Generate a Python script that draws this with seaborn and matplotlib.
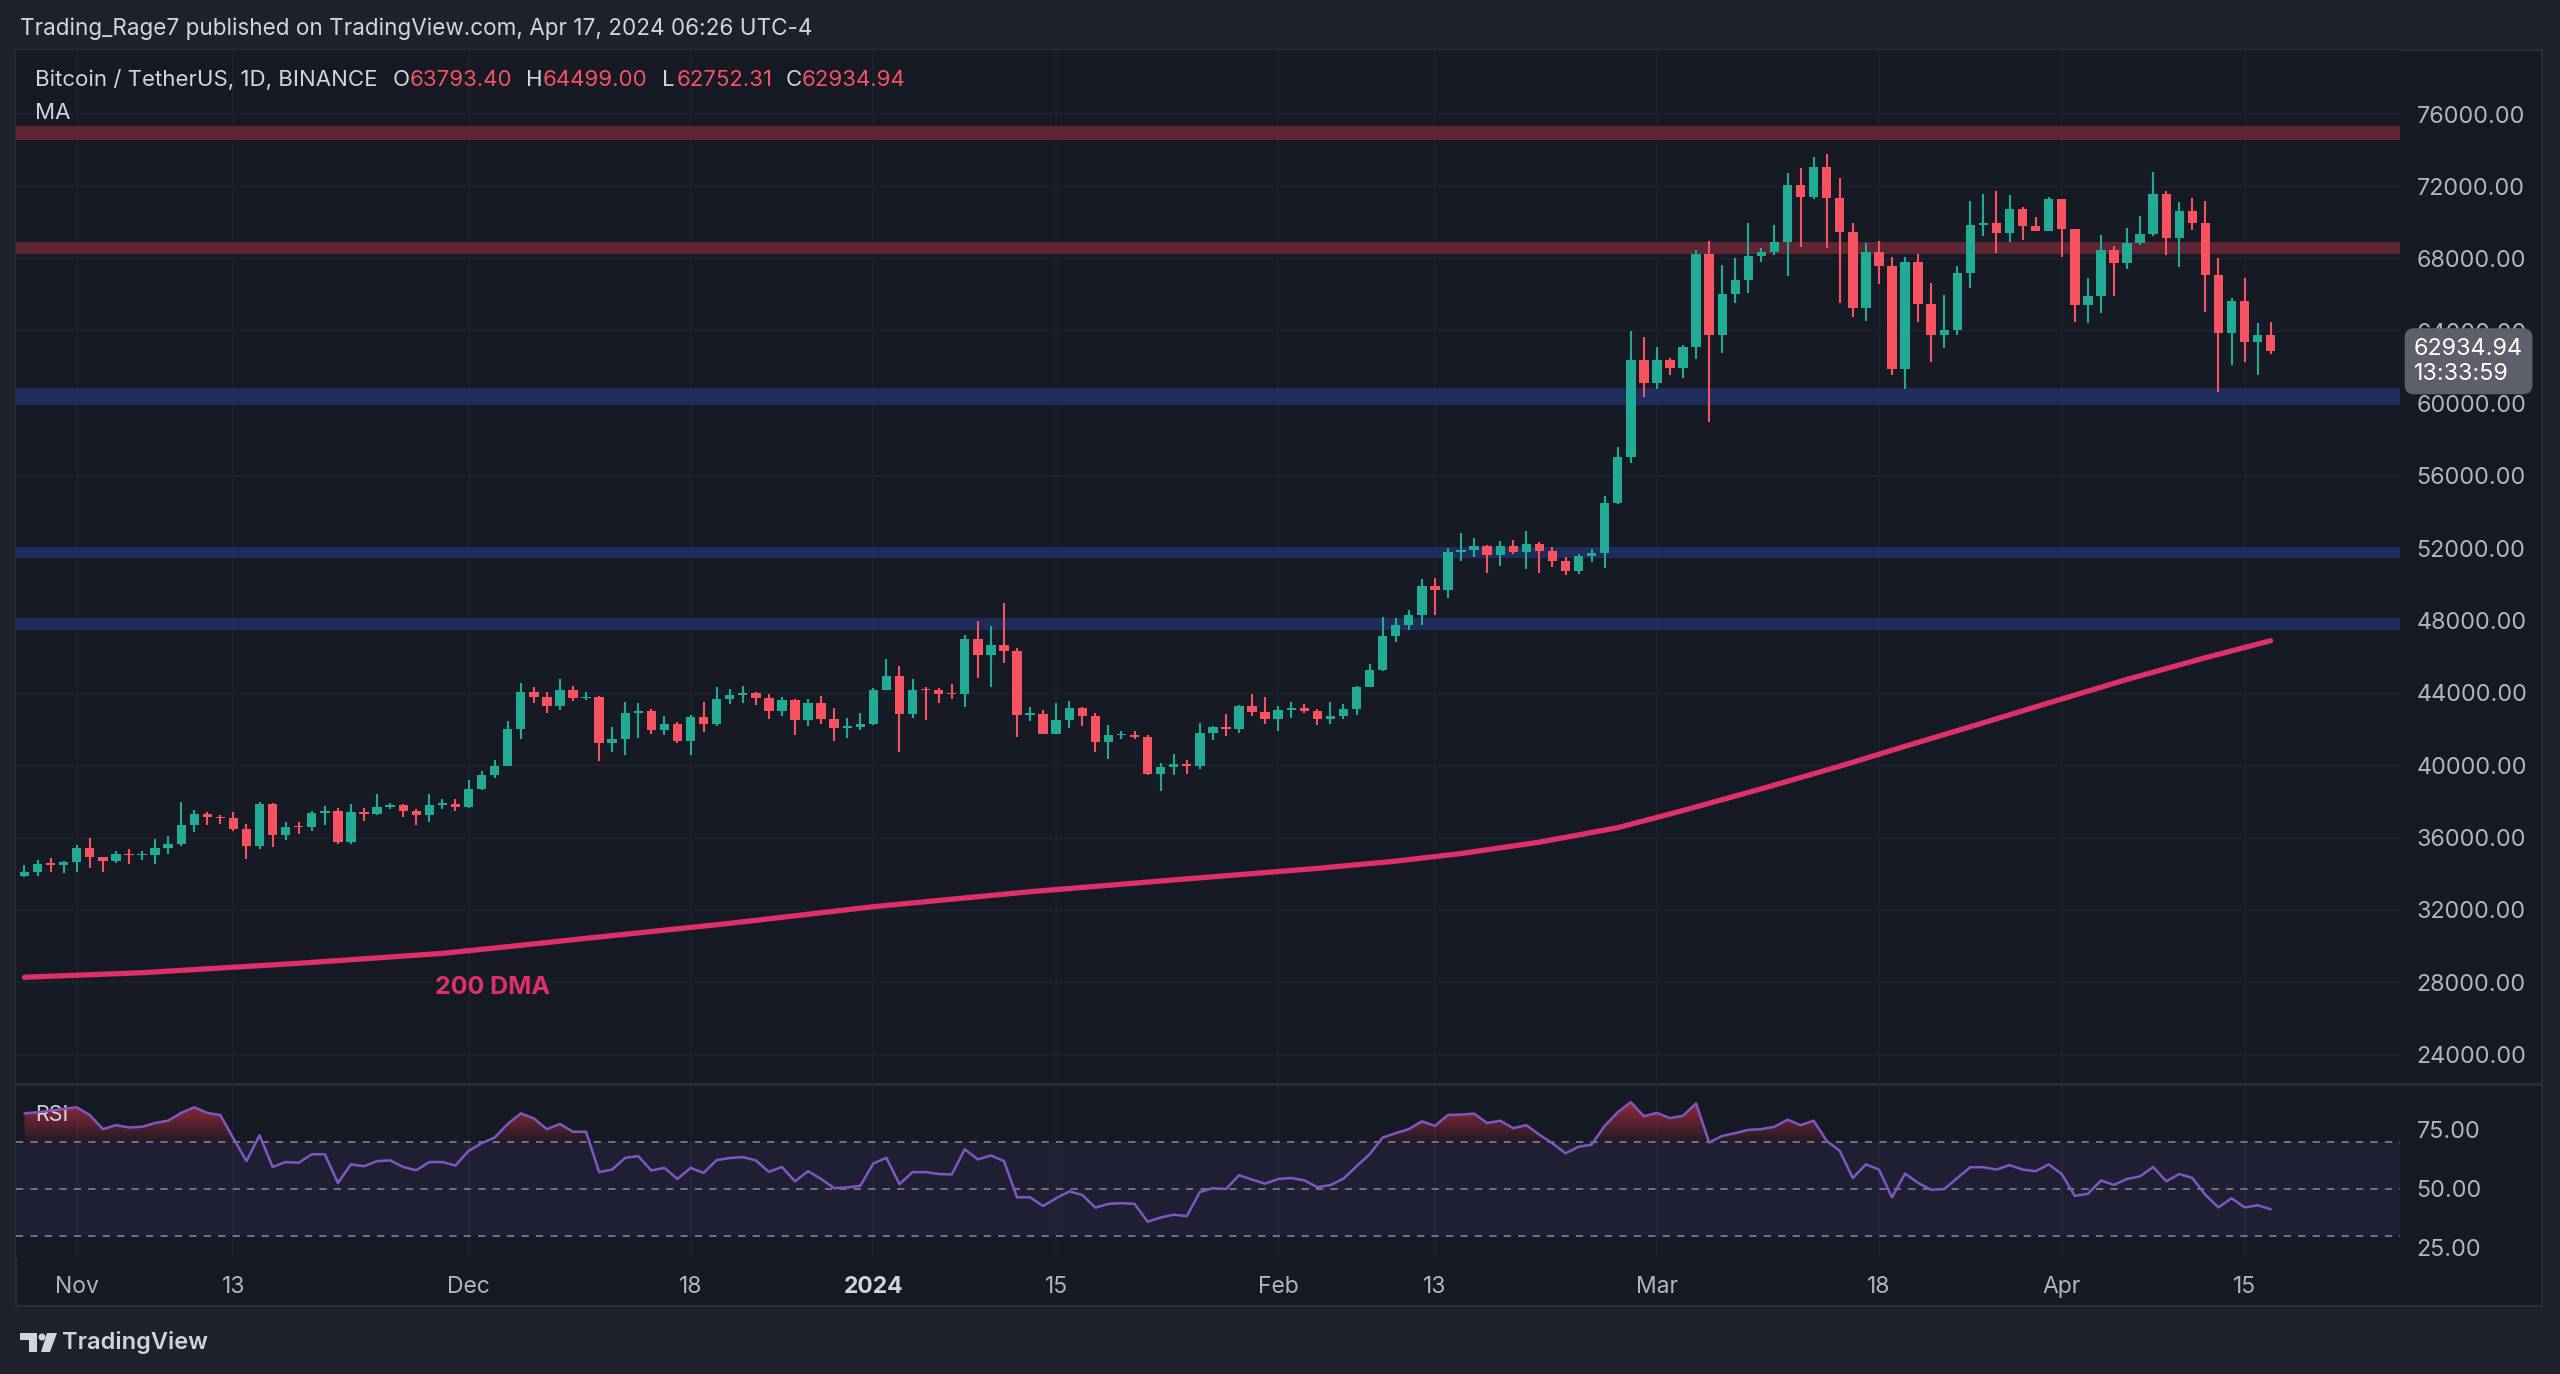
import numpy as np
import pandas as pd
import matplotlib
matplotlib.use("Agg")
import matplotlib.pyplot as plt
import matplotlib.patches as mpatches
from matplotlib.colors import LinearSegmentedColormap
from matplotlib.path import Path
import seaborn as sns

W, H = 2560, 1374

# ---- data ----
dates = pd.date_range("2023-10-28", "2024-04-17", freq="D")

opens = [
    33900, 34090, 34530, 34490,
    34650, 35420, 34940, 34730, 35080, 35030, 35050, 35420, 35630, 36700, 37320, 37140, 37070, 36490, 35550,
    37880, 36160, 36590, 36570, 37360, 37460, 35760, 37420, 37290, 37720, 37790, 37450, 37240, 37830, 37860,
    37720, 38690, 39470, 39980, 41990, 44080, 43770, 43290, 44170, 43710, 43790, 41240, 41450, 42890, 43020,
    41940, 42260, 41370, 42660, 42270, 43650, 43870, 43990, 43730, 43010, 43600, 42520, 43440, 42580, 42070, 42140,
    42280, 44180, 44950, 42850, 44150, 44140, 43970, 43930, 46970, 46120, 46650, 46340, 42780, 42840, 41730,
    42500, 43150, 42750, 41270, 41660, 41690, 41580, 39510, 39880, 40080, 39950, 41810, 42120, 42030, 43300, 42940,
    42580, 43080, 43190, 42990, 42580, 42700, 43090, 44340, 45290, 47130, 47760, 48290, 49920, 49700, 51800,
    51910, 52120, 51650, 52130, 51780, 52260, 51840, 51300, 50730, 51570, 51730, 54480, 57040, 62430,
    61130, 62390, 61990, 63130, 68250, 63770, 66080, 66840, 68190, 68380, 68960, 72100, 71450, 73100, 71380,
    69500, 65300, 68390, 67610, 61920, 67850, 65500, 63800, 64060, 67210, 69880, 69990, 69440, 70750, 69830, 69570,
    71290, 69650, 65460, 65960, 68500, 67800, 68900, 69360, 71620, 69140, 70630, 70010, 67120, 63920, 65700,
    63430, 63793.40,
]
highs = [
    34480, 34750, 34860, 34720,
    35580, 35980, 34950, 35280, 35380, 35280, 35920, 36100, 37970, 37530, 37410, 37250, 37420, 36770, 37980,
    37930, 36840, 36850, 37500, 37750, 37650, 37860, 37660, 38430, 37890, 37840, 37580, 38400, 38160, 38150,
    39190, 39700, 40290, 42470, 44530, 44310, 44050, 44750, 44370, 44050, 43850, 42100, 43520, 43430, 43110,
    42730, 42420, 42760, 43520, 44350, 44240, 44390, 44060, 43940, 43800, 43670, 43680, 43830, 43150, 42600, 42900,
    44260, 45900, 45500, 44750, 44340, 44250, 44480, 47200, 48000, 47700, 48990, 46500, 43250, 43060, 43430,
    43580, 43200, 42880, 42230, 41880, 41880, 41690, 40140, 40630, 40290, 42320, 42200, 42840, 43310, 43940, 43800,
    43290, 43490, 43380, 43120, 43500, 43400, 44370, 45600, 48200, 48170, 48590, 50330, 50370, 52040, 52820,
    52570, 52160, 52400, 52480, 52980, 52370, 52090, 51500, 51680, 51950, 54900, 57590, 63990, 63700,
    63110, 62540, 63230, 68500, 69000, 67650, 68040, 70000, 68600, 69880, 72780, 73010, 73660, 73780, 72460,
    70010, 68870, 69010, 68130, 68100, 68280, 66650, 66010, 67610, 71220, 71590, 71760, 71540, 70900, 70340, 71410,
    71300, 69680, 66930, 69330, 68720, 69730, 70380, 72830, 71760, 71170, 71350, 71230, 68040, 65840, 66930,
    64440, 64499.00,
]
lows = [
    33800, 33900, 34080, 34050,
    34100, 34300, 34100, 34580, 34530, 34740, 34520, 35080, 35530, 36330, 36710, 36740, 36340, 34800, 35360,
    35500, 35880, 36200, 36390, 36680, 35630, 35670, 36900, 37250, 37600, 37150, 36700, 36870, 37600, 37500,
    37630, 38650, 39290, 39950, 41440, 43430, 42880, 43080, 43580, 43630, 40260, 40760, 40570, 41490, 41730,
    41680, 41250, 40570, 41860, 42180, 43400, 43420, 43330, 42540, 42720, 41680, 42170, 42300, 41360, 41520, 41970,
    42210, 44150, 40760, 42630, 42510, 43470, 43650, 43240, 44810, 44310, 45680, 41590, 42440, 41720, 41720,
    42050, 42200, 40760, 40330, 41440, 41450, 39490, 38600, 39490, 39530, 39820, 41390, 41620, 41800, 42710, 42280,
    41920, 42600, 42880, 42230, 42260, 42570, 42790, 44330, 45240, 46800, 47500, 47760, 48300, 49250, 51280,
    51540, 50630, 51000, 51700, 50880, 50620, 50950, 50520, 50570, 51270, 50900, 54450, 56700, 60390,
    60790, 61590, 61400, 62460, 59010, 62790, 65550, 66100, 67850, 68200, 67060, 68650, 71330, 68590, 65590,
    64810, 64590, 66620, 61590, 60790, 64540, 62320, 63060, 63800, 66380, 69270, 68350, 68960, 69050, 69540, 69560,
    68130, 64540, 64480, 65030, 65950, 67450, 68800, 69270, 68220, 67580, 69600, 65090, 60660, 62140, 62320,
    61590, 62752.31,
]
closes = [
    34090, 34530, 34490, 34650,
    35420, 34940, 34730, 35080, 35030, 35050, 35420, 35630, 36700, 37320, 37140, 37070, 36490, 35550, 37880,
    36160, 36590, 36570, 37360, 37460, 35760, 37420, 37290, 37720, 37790, 37450, 37240, 37830, 37860, 37720,
    38690, 39470, 39980, 41990, 44080, 43770, 43290, 44170, 43710, 43790, 41240, 41450, 42890, 43020, 41940,
    42260, 41370, 42660, 42270, 43650, 43870, 43990, 43730, 43010, 43600, 42520, 43440, 42580, 42070, 42140, 42280,
    44180, 44950, 42850, 44150, 44140, 43970, 43930, 46970, 46120, 46650, 46340, 42780, 42840, 41730, 42500,
    43150, 42750, 41270, 41660, 41690, 41580, 39510, 39880, 40080, 39950, 41810, 42120, 42030, 43300, 42940, 42580,
    43080, 43190, 42990, 42580, 42700, 43090, 44340, 45290, 47130, 47760, 48290, 49920, 49700, 51800, 51910,
    52120, 51650, 52130, 51780, 52260, 51840, 51300, 50730, 51570, 51730, 54480, 57040, 62430, 61130,
    62390, 61990, 63130, 68250, 63770, 66080, 66840, 68190, 68380, 68960, 72100, 71450, 73100, 71380, 69500,
    65300, 68390, 67610, 61920, 67850, 65500, 63800, 64060, 67210, 69880, 69990, 69440, 70750, 69830, 69570, 71290,
    69650, 65460, 65960, 68500, 67800, 68900, 69360, 71620, 69140, 70630, 70010, 67120, 63920, 65700, 63430,
    63793.40, 62934.94,
]

rsi_values = [
    82.0, 82.5, 83.2, 83.9,
    84.6, 81.3, 75.3, 77.0, 76.0, 76.3, 77.9, 78.9, 82.2, 84.6,
    82.2, 81.3, 71.3, 61.7, 72.7, 59.2, 61.3, 61.0, 64.6, 64.6,
    52.4, 60.3, 59.5, 61.7, 62.0, 59.2, 57.8, 61.3, 61.3, 59.8,
    66.0, 69.3, 71.7, 77.5, 82.0, 79.9, 75.3, 77.5, 74.2, 74.2,
    57.0, 58.1, 63.1, 63.8, 57.7, 58.8, 54.1, 58.8, 56.7, 62.1,
    63.0, 63.4, 62.0, 57.1, 59.2, 53.1, 57.4, 54.1, 50.2, 50.5,
    51.2, 60.7, 63.1, 51.9, 57.0, 57.0, 56.2, 56.0, 66.7, 62.4,
    64.1, 61.7, 46.3, 46.3, 42.6, 45.9, 48.8, 47.3, 41.9, 43.5,
    43.8, 43.5, 35.9, 37.7, 38.9, 38.3, 48.5, 50.2, 49.8, 55.7,
    53.8, 52.1, 54.1, 54.5, 53.5, 50.6, 51.5, 54.2, 59.5, 64.6,
    71.7, 73.6, 75.3, 78.6, 76.7, 81.3, 81.5, 81.9, 77.9, 78.9,
    75.7, 77.0, 72.9, 69.3, 65.0, 67.8, 68.7, 76.7, 82.5, 86.8,
    80.8, 82.2, 80.0, 81.0, 86.3, 69.6, 72.4, 73.6, 75.0, 75.3,
    76.3, 79.3, 77.0, 78.9, 70.3, 66.0, 54.5, 60.3, 58.1, 46.3,
    56.4, 52.4, 49.5, 49.8, 54.5, 59.1, 59.1, 58.1, 60.0, 58.1,
    57.4, 60.3, 56.2, 46.9, 47.8, 53.4, 51.6, 54.1, 55.2, 59.2,
    53.1, 56.2, 54.5, 47.3, 42.0, 45.9, 42.0, 42.9, 41.2,
]

dma_dates = ["2023-10-28", "2023-11-06", "2023-11-18", "2023-11-29", "2023-12-04", "2023-12-10",
             "2023-12-21", "2024-01-01", "2024-01-13", "2024-01-24", "2024-02-04", "2024-02-10",
             "2024-02-15", "2024-02-21", "2024-02-27", "2024-03-03", "2024-03-09", "2024-03-15",
             "2024-03-20", "2024-03-26", "2024-03-31", "2024-04-06", "2024-04-12", "2024-04-17"]
dma_values = [28280, 28530, 29050, 29600, 29970, 30430, 31260, 32180, 33010, 33660, 34300, 34700,
              35120, 35750, 36550, 37500, 38700, 39950, 41050, 42350, 43450, 44750, 45950, 46890]

red_zones = [(74560, 75370), (68270, 68960)]
blue_zones = [(59930, 60850), (51460, 52070), (47480, 48140)]

price_ticks = list(range(24000, 76001, 4000))
rsi_ticks = [25, 50, 75]
rsi_bands = [70, 50, 30]
date_ticks = ["2023-11-01", "2023-11-13", "2023-12-01", "2023-12-18", "2024-01-01", "2024-01-15",
              "2024-02-01", "2024-02-13", "2024-03-01", "2024-03-18", "2024-04-01", "2024-04-15"]
date_labels = ["Nov", "13", "Dec", "18", "2024", "15", "Feb", "13", "Mar", "18", "Apr", "15"]

# ---- style ----
UP, DOWN = "#22ab94", "#f7525f"
BG_OUT, BG_IN = "#1e222d", "#161a25"
TXT = "#d1d4dc"
GRID = "#1e2230"

sns.set_theme(style="dark")
plt.rcParams["font.family"] = ["Inter", "DejaVu Sans"]


def fx(px):
    return px / W


def fy(py):
    return 1 - py / H


fig = plt.figure(figsize=(W / 100, H / 100), dpi=100)
fig.patch.set_facecolor(BG_OUT)
fig.add_artist(mpatches.Rectangle((fx(16), fy(1306)), (2542 - 16) / W, (1306 - 50) / H,
                                  transform=fig.transFigure, facecolor=BG_IN,
                                  edgecolor="#2a2e39", lw=1.5, zorder=0))

ax = fig.add_axes([fx(16), fy(1084), (2400 - 16) / W, (1084 - 50) / H])
rax = fig.add_axes([fx(16), fy(1257), (2400 - 16) / W, (1257 - 1084) / H], sharex=ax)

origin = pd.Timestamp("2023-11-01")
x = np.asarray((dates - origin).days, dtype=float)
tick_x = np.asarray((pd.to_datetime(date_ticks) - origin).days, dtype=float)
dma_x = np.asarray((pd.to_datetime(dma_dates) - origin).days, dtype=float)

for a in (ax, rax):
    a.set_facecolor(BG_IN)
    for s in a.spines.values():
        s.set_visible(False)
    for t in tick_x:
        a.axvline(t, color=GRID, lw=1.2, zorder=0)

# ---- price pane ----
for p in price_ticks:
    ax.axhline(p, color=GRID, lw=1.2, zorder=0)
for lo, hi in red_zones:
    ax.axhspan(lo, hi, color="#5e2632", lw=0, zorder=1)
for lo, hi in blue_zones:
    ax.axhspan(lo, hi, color="#1f2d5c", lw=0, zorder=1)

o, h, l, c = map(np.asarray, (opens, highs, lows, closes))
cols = np.where(c >= o, UP, DOWN)
ax.vlines(x, l, h, colors=cols, lw=1.5, zorder=3)
ax.bar(x, np.maximum(np.abs(c - o), 90), bottom=np.minimum(o, c), width=0.72,
       color=cols, lw=0, zorder=4)

sns.lineplot(x=dma_x, y=dma_values, ax=ax, color="#e0306a", lw=3.8, zorder=5)
ax.text(27.4, 27700, "200 DMA", color="#e0306a", fontsize=18, fontweight="bold",
        va="center", ha="left")

ax.set_xlim(-4.65, 177.9)
ax.set_ylim(22376, 79556)
ax.yaxis.tick_right()
ax.set_yticks(price_ticks)
ax.set_yticklabels([f"{p:.2f}" for p in price_ticks])
ax.tick_params(axis="y", colors="#b2b5be", labelsize=16.8, length=0, pad=12)
ax.tick_params(axis="x", labelbottom=False, length=0)
ax.set_xlabel("")
ax.set_ylabel("")

ax.annotate(f"{closes[-1]:.2f}\n13:33:59", xy=(1.0, closes[-1]), xycoords=("axes fraction", "data"),
            xytext=(14, 13), textcoords="offset pixels", ha="left", va="top",
            color="white", fontsize=16.8, linespacing=1.2, annotation_clip=False, zorder=10,
            bbox=dict(boxstyle="round,pad=0.4", fc="#5d606b", ec="none"))

# ---- RSI pane ----
r = np.asarray(rsi_values)
rax.axhspan(30, 70, color="#7e57c2", alpha=0.1, lw=0, zorder=1)
for b in rsi_bands:
    rax.axhline(b, color="#787b86", lw=1.3, ls=(0, (4, 4)), zorder=2)
fill = rax.fill_between(x, 70, r, where=r > 70, interpolate=True, color="none", lw=0)
clip = Path.make_compound_path(*fill.get_paths())
cmap = LinearSegmentedColormap.from_list("ob", [(0.95, 0.21, 0.27, 0.05), (0.95, 0.21, 0.27, 0.75)])
grad = np.linspace(0, 1, 256).reshape(-1, 1)
im = rax.imshow(grad, extent=[x[0], x[-1], 70, 92], origin="lower", cmap=cmap,
                aspect="auto", zorder=2)
im.set_clip_path(clip, rax.transData)
sns.lineplot(x=x, y=r, ax=rax, color="#7e57c2", lw=1.8, zorder=4)

rax.set_xlim(-4.65, 177.9)
rax.set_ylim(20.9, 94.5)
rax.yaxis.tick_right()
rax.set_yticks(rsi_ticks)
rax.set_yticklabels([f"{v:.2f}" for v in rsi_ticks])
rax.tick_params(axis="y", colors="#b2b5be", labelsize=16.8, length=0, pad=12)
rax.set_xticks(tick_x)
rax.set_xticklabels(date_labels)
rax.tick_params(axis="x", colors="#b2b5be", labelsize=16.5, length=0, pad=14)
for lab in rax.get_xticklabels():
    if lab.get_text() == "2024":
        lab.set_fontweight("bold")
        lab.set_color(TXT)
rax.set_xlabel("")
rax.set_ylabel("")
rax.text(0.008, 0.82, "RSI", transform=rax.transAxes, color=TXT, fontsize=15.5, va="center")

# pane separator
fig.add_artist(plt.Line2D([fx(16), fx(2542)], [fy(1084), fy(1084)], color="#2a2e39", lw=2))

# ---- header texts ----
fig.text(fx(20), fy(29), "Trading_Rage7 published on TradingView.com, Apr 17, 2024 06:26 UTC-4",
         color=TXT, fontsize=16.2, va="center")
legend_bits = [(35, "Bitcoin / TetherUS, 1D, BINANCE", TXT),
               (393, "O", TXT), (410, f"{opens[-1]:.2f}", DOWN),
               (526, "H", TXT), (543, f"{highs[-1]:.2f}", DOWN),
               (662, "L", TXT), (677, f"{lows[-1]:.2f}", DOWN),
               (786, "C", TXT), (802, f"{closes[-1]:.2f}", DOWN)]
for px, s, col in legend_bits:
    fig.text(fx(px), fy(80), s, color=col, fontsize=16, va="center")
fig.text(fx(35), fy(113), "MA", color=TXT, fontsize=16, va="center")

# ---- footer logo ----
logo = [
    mpatches.Polygon([(fx(20), fy(1333)), (fx(37), fy(1333)), (fx(37), fy(1352)),
                      (fx(29), fy(1352)), (fx(29), fy(1340)), (fx(20), fy(1340))]),
    mpatches.Ellipse((fx(42), fy(1337)), 7 / W, 7 / H),
    mpatches.Polygon([(fx(47), fy(1333)), (fx(57), fy(1333)), (fx(50), fy(1352)), (fx(41), fy(1352))]),
]
for p in logo:
    p.set_transform(fig.transFigure)
    p.set_facecolor(TXT)
    p.set_edgecolor("none")
    fig.add_artist(p)
fig.text(fx(62), fy(1343), "TradingView", color=TXT, fontsize=17, fontweight="semibold", va="center")

fig.savefig("out.png", dpi=100, facecolor=fig.get_facecolor())
